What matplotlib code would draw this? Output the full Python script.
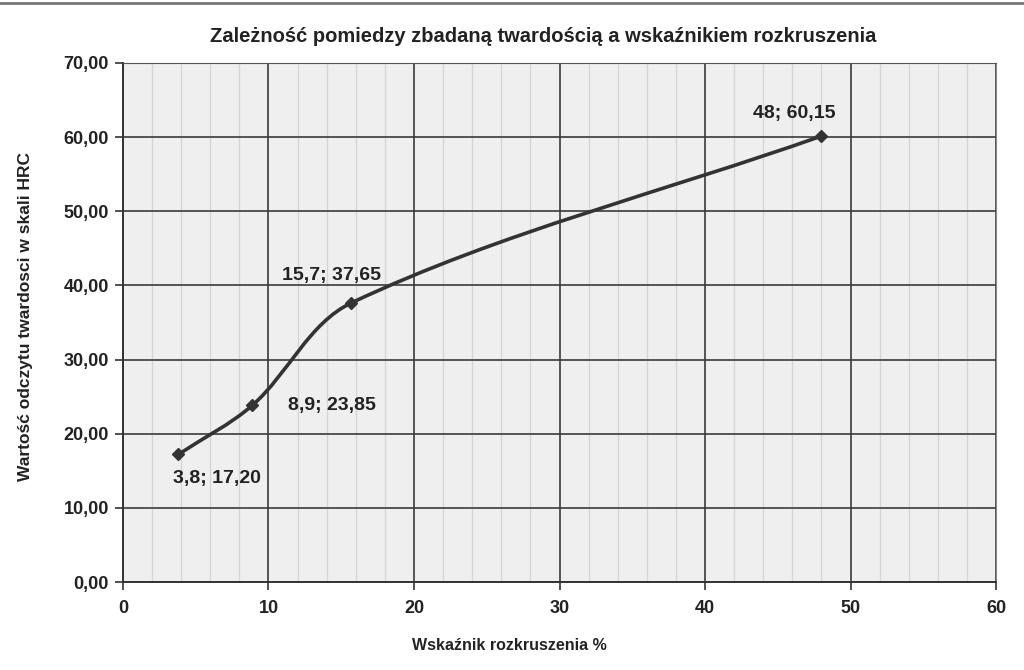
import matplotlib
matplotlib.use("Agg")
import matplotlib.pyplot as plt
from matplotlib.path import Path
from matplotlib.patches import PathPatch
from matplotlib.lines import Line2D
from matplotlib.ticker import MultipleLocator, FuncFormatter
import numpy as np

plt.rcParams['font.family'] = ['Liberation Sans', 'DejaVu Sans']

# dane
wskaznik = [3.8, 8.9, 15.7, 48]
twardosc = [17.20, 23.85, 37.65, 60.15]
etykiety = ["3,8; 17,20", "8,9; 23,85", "15,7; 37,65", "48; 60,15"]

title = "Zależność pomiedzy zbadaną twardością a wskaźnikiem rozkruszenia"
xlabel = "Wskaźnik rozkruszenia %"
ylabel = "Wartość odczytu twardosci w skali HRC"

fig = plt.figure(figsize=(10.24, 6.70), dpi=100)
ax = fig.add_axes([0.1201, 0.1313, 0.8526, 0.7747])
ax.set_facecolor("#efefef")
ax.set_xlim(0, 60)
ax.set_ylim(0, 70)

ax.xaxis.set_major_locator(MultipleLocator(10))
ax.xaxis.set_minor_locator(MultipleLocator(2))
ax.yaxis.set_major_locator(MultipleLocator(10))
ax.yaxis.set_major_formatter(FuncFormatter(lambda v, p: "{:.2f}".format(v).replace(".", ",")))

ax.grid(which="minor", axis="x", color="#d6d6d6", linewidth=1.0)
ax.grid(which="major", color="#3a3a3a", linewidth=1.2)
ax.set_axisbelow(True)
ax.tick_params(which="minor", length=0)
ax.tick_params(which="major", length=6, width=1.2, color="#333333", direction="out",
               labelsize=13, pad=4)
ax.tick_params(axis="x", pad=7)
for lab in ax.get_xticklabels() + ax.get_yticklabels():
    lab.set_fontweight("bold")
    lab.set_color("#222222")

for s in ["left", "bottom"]:
    ax.spines[s].set_color("#333333")
    ax.spines[s].set_linewidth(1.4)
ax.spines["top"].set_color("#555555")
ax.spines["right"].set_color("#8a8a8a")

# gladka krzywa (jak w Excelu) - bezier liczony w pikselach
sx = 873 / 60.0
sy = 519 / 70.0
P = np.column_stack([np.array(wskaznik) * sx, np.array(twardosc) * sy])
n = len(P)
T = []
for i in range(n):
    if i == 0:
        d = P[1] - P[0]
    elif i == n - 1:
        d = P[-1] - P[-2]
    else:
        d = P[i + 1] - P[i - 1]
    T.append(d / np.hypot(*d))
verts = [P[0]]
codes = [Path.MOVETO]
for i in range(n - 1):
    L = np.hypot(*(P[i + 1] - P[i])) / 3.0
    verts += [P[i] + T[i] * L, P[i + 1] - T[i + 1] * L, P[i + 1]]
    codes += [Path.CURVE4] * 3
verts = np.array(verts) / [sx, sy]
ax.add_patch(PathPatch(Path(verts, codes), facecolor="none", edgecolor="#333333",
                       linewidth=2.6, zorder=3))
ax.plot(wskaznik, twardosc, linestyle="none", marker="D", markersize=6,
        color="#333333", zorder=4)

# przesuniecia etykiet (w punktach)
offsets = [(-3.6, -17), (25.6, 0), (-50, 20), (-49, 16)]
for x, y, t, (dx, dy) in zip(wskaznik, twardosc, etykiety, offsets):
    ax.annotate(t, (x, y), xytext=(dx, dy), textcoords="offset points",
                fontsize=14, fontweight="bold", color="#222222", ha="left", va="center")

fig.text(0.530, 0.945, title, ha="center", va="center", fontsize=14.5,
         fontweight="bold", color="#222222")
fig.text(0.497, 0.037, xlabel, ha="center", va="center", fontsize=11.5,
         fontweight="bold", color="#222222")
fig.text(0.025, 0.527, ylabel, ha="center", va="center", rotation=90, fontsize=12.5,
         fontweight="bold", color="#222222")

fig.add_artist(Line2D([0, 1], [1 - 3 / 670, 1 - 3 / 670], color="#777777",
                      linewidth=2, transform=fig.transFigure))

fig.savefig("out.png", dpi=100, facecolor="white")
